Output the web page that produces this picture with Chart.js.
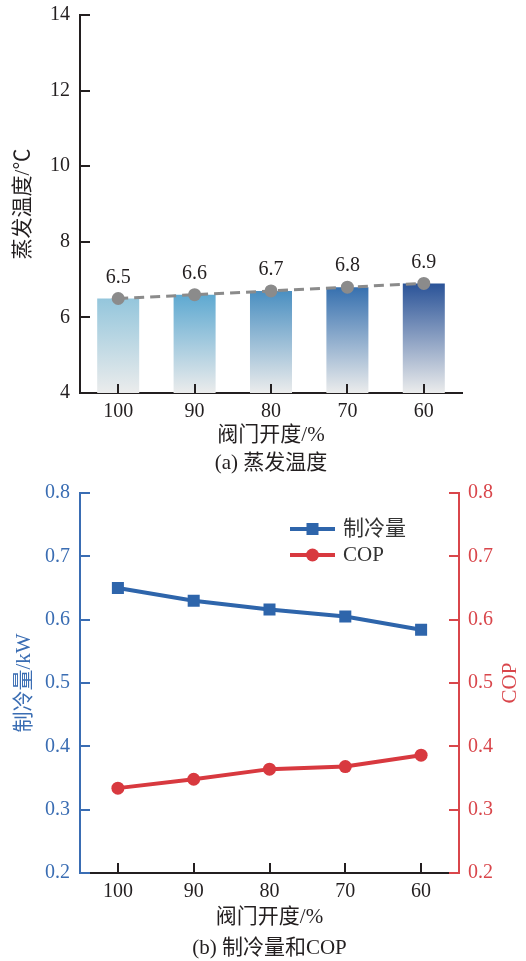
<!DOCTYPE html>
<html>
<head>
<meta charset="utf-8">
<script src="https://cdn.jsdelivr.net/npm/chart.js@4.4.1/dist/chart.umd.min.js"></script>
<style>
  html, body { margin: 0; padding: 0; background: #fff; }
  .panel { position: absolute; left: 0; width: 526px; }
  #p1 { top: 0; height: 480px; }
  #p2 { top: 480px; height: 481px; }
</style>
</head>
<body>
<div class="panel" id="p1"><canvas id="c1" width="526" height="480"></canvas></div>
<div class="panel" id="p2"><canvas id="c2" width="526" height="481"></canvas></div>
<script>
// ---- data ----
const openings = ['100', '90', '80', '70', '60'];          // 阀门开度/%
const evapTemp = [6.5, 6.6, 6.7, 6.8, 6.9];                 // 蒸发温度/℃
const tempTicks = [4, 6, 8, 10, 12, 14];
const coolingCapacity = [0.650, 0.630, 0.616, 0.605, 0.584]; // 制冷量/kW
const cop = [0.334, 0.348, 0.364, 0.368, 0.386];             // COP
const capTicks = [0.2, 0.3, 0.4, 0.5, 0.6, 0.7, 0.8];

// ---- styling ----
const FONT = '"Liberation Serif", "Noto Sans CJK SC", serif';
const INK = '#231f20';
const BLUE = '#2e65ab';
const RED = '#d8393f';
const BLUE_AXIS = '#3a6db3';
const RED_AXIS = '#d9464b';
const barTopColors = ['#94c6dc', '#5ea9d1', '#4a8fc1', '#3670af', '#2a5398'];
const barBottom = '#ebecec';
const TICK_SIZE = 20;
const TITLE_SIZE = 21;

Chart.defaults.font.family = FONT;

function barFill(c) {
  const chart = c.chart, area = chart.chartArea, i = c.dataIndex;
  if (!area || i === undefined) return barTopColors[0];
  const top = chart.scales.y.getPixelForValue(evapTemp[i]);
  const g = chart.ctx.createLinearGradient(0, top, 0, area.bottom);
  g.addColorStop(0, barTopColors[i]);
  g.addColorStop(1, barBottom);
  return g;
}

// keep the plot area exactly where the layout padding puts it
function fixedWidth(w) {
  return s => { s.width = w; s.paddingTop = 0; s.paddingBottom = 0; };
}
function fixedHeight(h) {
  return s => { s.height = h; s.paddingLeft = 0; s.paddingRight = 0; };
}

// inward tick marks on every axis
const tickMarks = {
  id: 'tickMarks',
  afterDatasetsDraw(chart, args, opts) {
    const ctx = chart.ctx, a = chart.chartArea;
    ctx.save();
    ctx.lineWidth = 2;
    for (const m of opts.marks) {
      const s = chart.scales[m.id];
      ctx.strokeStyle = m.color;
      ctx.beginPath();
      if (s.axis === 'x') {
        s.ticks.forEach((t, i) => {
          const x = Math.round(s.getPixelForTick(i));
          ctx.moveTo(x, a.bottom); ctx.lineTo(x, a.bottom - m.len);
        });
      } else {
        s.ticks.forEach(t => {
          const y = Math.round(s.getPixelForValue(t.value));
          const x0 = s.position === 'left' ? a.left : a.right;
          const dir = s.position === 'left' ? 1 : -1;
          ctx.moveTo(x0, y); ctx.lineTo(x0 + dir * m.len, y);
        });
      }
      ctx.stroke();
    }
    ctx.restore();
  }
};

// axis titles and panel caption
const panelText = {
  id: 'panelText',
  afterDraw(chart, args, opts) {
    const ctx = chart.ctx, a = chart.chartArea;
    ctx.save();
    ctx.font = TITLE_SIZE + 'px ' + FONT;
    ctx.textAlign = 'center';
    ctx.textBaseline = 'middle';
    const midX = (a.left + a.right) / 2, midY = (a.top + a.bottom) / 2;
    for (const t of opts.vertical) {
      ctx.save();
      ctx.fillStyle = t.color;
      ctx.translate(t.x, midY);
      ctx.rotate(-Math.PI / 2);
      ctx.fillText(t.text, 0, 0);
      ctx.restore();
    }
    ctx.fillStyle = INK;
    ctx.fillText(opts.xTitle, midX, a.bottom + opts.xTitleDy);
    ctx.fillText(opts.caption, midX, a.bottom + opts.captionDy);
    ctx.restore();
  }
};

// value labels above the temperature points
const valueLabels = {
  id: 'valueLabels',
  afterDatasetsDraw(chart) {
    const ctx = chart.ctx;
    const meta = chart.getDatasetMeta(0);
    ctx.save();
    ctx.font = TICK_SIZE + 'px ' + FONT;
    ctx.fillStyle = INK;
    ctx.textAlign = 'center';
    ctx.textBaseline = 'middle';
    meta.data.forEach((pt, i) => {
      ctx.fillText(evapTemp[i].toFixed(1), pt.x, pt.y - 21);
    });
    ctx.restore();
  }
};

// line-with-marker legend inside the plot
const markerLegend = {
  id: 'markerLegend',
  afterDraw(chart, args, opts) {
    const ctx = chart.ctx, a = chart.chartArea;
    ctx.save();
    chart.data.datasets.forEach((ds, i) => {
      const y = a.top + opts.dy + i * opts.rowGap;
      const x0 = a.left + opts.dx, x1 = x0 + 45, xc = (x0 + x1) / 2;
      ctx.strokeStyle = ds.borderColor;
      ctx.lineWidth = ds.borderWidth;
      ctx.beginPath(); ctx.moveTo(x0, y); ctx.lineTo(x1, y); ctx.stroke();
      ctx.fillStyle = ds.borderColor;
      if (ds.pointStyle === 'rect') {
        ctx.fillRect(xc - 6, y - 6, 12, 12);
      } else {
        ctx.beginPath(); ctx.arc(xc, y, 6.5, 0, Math.PI * 2); ctx.fill();
      }
      ctx.fillStyle = '#333';
      ctx.font = TITLE_SIZE + 'px ' + FONT;
      ctx.textAlign = 'left';
      ctx.textBaseline = 'middle';
      ctx.fillText(ds.label, x1 + 8, y);
    });
    ctx.restore();
  }
};

// ---- (a) 蒸发温度 ----
new Chart(document.getElementById('c1'), {
  data: {
    labels: openings,
    datasets: [
      {
        type: 'line', label: '蒸发温度', data: evapTemp, order: 0,
        borderColor: '#8b8b8b', borderWidth: 3, borderDash: [10, 6],
        pointRadius: 6.5, pointHoverRadius: 6.5, pointBackgroundColor: '#8b8b8b',
        pointBorderWidth: 0, tension: 0
      },
      {
        type: 'bar', label: '蒸发温度', data: evapTemp, order: 1,
        backgroundColor: barFill, borderWidth: 0,
        barPercentage: 0.55, categoryPercentage: 1
      }
    ]
  },
  options: {
    responsive: false, animation: false, devicePixelRatio: 1,
    layout: { padding: { top: 15, right: 64, left: 0, bottom: 0 } },
    plugins: {
      legend: { display: false }, tooltip: { enabled: false },
      tickMarks: { marks: [{ id: 'x', color: INK, len: 9 }, { id: 'y', color: INK, len: 10 }] },
      panelText: {
        vertical: [{ text: '蒸发温度/℃', x: 23, color: INK }],
        xTitle: '阀门开度/%', xTitleDy: 42, caption: '(a) 蒸发温度', captionDy: 70
      }
    },
    scales: {
      x: {
        offset: true,
        grid: { display: false, drawTicks: false },
        border: { display: true, color: INK, width: 2 },
        ticks: { color: INK, font: { size: TICK_SIZE }, padding: 7 },
        afterFit: fixedHeight(87)
      },
      y: {
        min: 4, max: 14,
        afterBuildTicks: s => { s.ticks = tempTicks.map(v => ({ value: v })); },
        grid: { display: false, drawTicks: false },
        border: { display: true, color: INK, width: 2 },
        ticks: { color: INK, font: { size: TICK_SIZE }, padding: 10 },
        afterFit: fixedWidth(80)
      }
    }
  },
  plugins: [tickMarks, valueLabels, panelText]
});

// ---- (b) 制冷量和COP ----
new Chart(document.getElementById('c2'), {
  type: 'line',
  data: {
    labels: openings,
    datasets: [
      {
        label: '制冷量', data: coolingCapacity, yAxisID: 'y',
        borderColor: BLUE, borderWidth: 4, pointStyle: 'rect',
        pointRadius: 8.5, pointHoverRadius: 8.5, pointBackgroundColor: BLUE,
        pointBorderWidth: 0, tension: 0
      },
      {
        label: 'COP', data: cop, yAxisID: 'y1',
        borderColor: RED, borderWidth: 4, pointStyle: 'circle',
        pointRadius: 6.5, pointHoverRadius: 6.5, pointBackgroundColor: RED,
        pointBorderWidth: 0, tension: 0
      }
    ]
  },
  options: {
    responsive: false, animation: false, devicePixelRatio: 1,
    layout: { padding: { top: 13, right: 0, left: 0, bottom: 0 } },
    plugins: {
      legend: { display: false }, tooltip: { enabled: false },
      tickMarks: { marks: [
        { id: 'x', color: INK, len: 10 },
        { id: 'y', color: BLUE_AXIS, len: 10 },
        { id: 'y1', color: RED_AXIS, len: 10 }
      ] },
      panelText: {
        vertical: [
          { text: '制冷量/kW', x: 24, color: BLUE_AXIS },
          { text: 'COP', x: 510, color: RED_AXIS }
        ],
        xTitle: '阀门开度/%', xTitleDy: 44, caption: '(b) 制冷量和COP', captionDy: 75
      },
      markerLegend: { dx: 210, dy: 36, rowGap: 26 }
    },
    scales: {
      x: {
        offset: true,
        grid: { display: false, drawTicks: false },
        border: { display: true, color: INK, width: 2 },
        ticks: { color: INK, font: { size: TICK_SIZE }, padding: 7 },
        afterFit: fixedHeight(88)
      },
      y: {
        position: 'left', min: 0.2, max: 0.8,
        afterBuildTicks: s => { s.ticks = capTicks.map(v => ({ value: v })); },
        grid: { display: false, drawTicks: false },
        border: { display: true, color: BLUE_AXIS, width: 2 },
        ticks: { color: BLUE_AXIS, font: { size: TICK_SIZE }, padding: 10, callback: v => Number(v).toFixed(1) },
        afterFit: fixedWidth(80)
      },
      y1: {
        position: 'right', min: 0.2, max: 0.8,
        afterBuildTicks: s => { s.ticks = capTicks.map(v => ({ value: v })); },
        grid: { display: false, drawTicks: false },
        border: { display: true, color: RED_AXIS, width: 2 },
        ticks: { color: RED_AXIS, font: { size: TICK_SIZE }, padding: 9, callback: v => Number(v).toFixed(1) },
        afterFit: fixedWidth(67)
      }
    }
  },
  plugins: [tickMarks, panelText, markerLegend]
});
</script>
</body>
</html>
